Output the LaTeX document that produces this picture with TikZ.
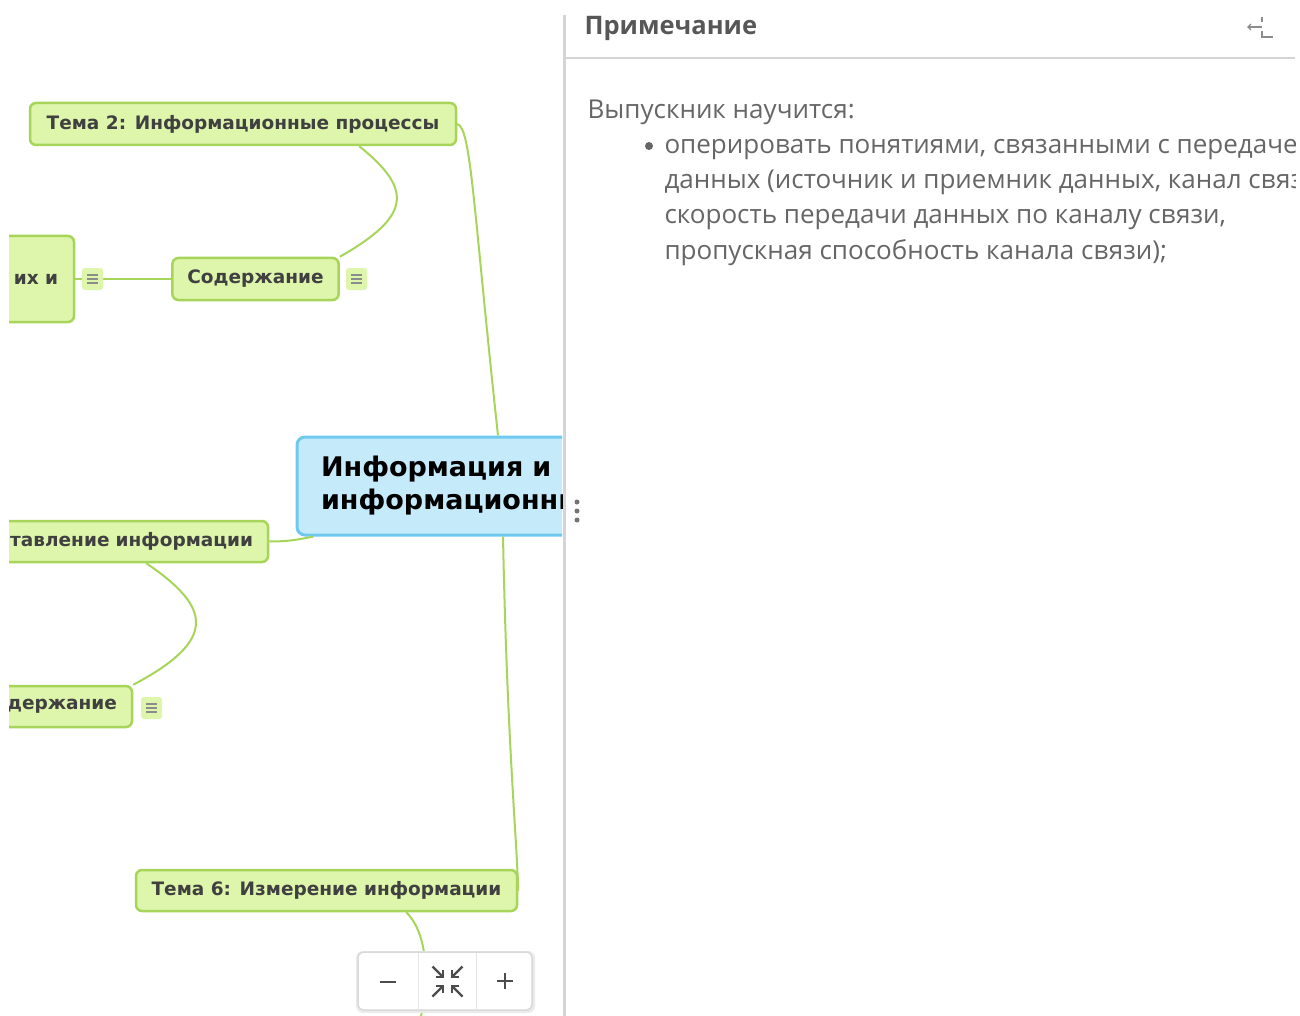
\documentclass[tikz,border=0pt]{standalone}
\usepackage{fontspec}
\setmainfont{Open Sans}
\newfontfamily\mapfont{DejaVu Sans}
\usetikzlibrary{calc,arrows.meta}
\definecolor{mapfill}{RGB}{222,245,172}
\definecolor{mapline}{RGB}{166,213,90}
\definecolor{maptext}{RGB}{64,64,64}
\definecolor{rootfill}{RGB}{197,235,250}
\definecolor{rootline}{RGB}{110,200,240}
\definecolor{notetext}{RGB}{102,102,102}
\definecolor{panelline}{RGB}{212,212,212}
\tikzset{
    topic/.style={
        rectangle,
        draw=mapline,
        fill=mapfill,
        line width=2.5pt,
        rounded corners=6pt,
        minimum height=42pt,
        inner xsep=15pt,
        text=maptext,
        font=\mapfont\bfseries\fontsize{18.5}{22}\selectfont
    },
    cuttopic/.style={
        topic,
        align=right
    },
    roottopic/.style={
        topic,
        draw=rootline,
        fill=rootfill,
        line width=3pt,
        rounded corners=8pt,
        minimum height=98pt,
        inner xsep=24pt,
        align=left,
        text=black,
        font=\mapfont\bfseries\fontsize{27}{33}\selectfont
    },
    notebox/.style={
        rectangle,
        fill=mapfill,
        rounded corners=3pt,
        minimum width=21pt,
        minimum height=22pt
    },
    branch/.style={draw=mapline, line width=2pt},
    ctlbtn/.style={draw=black!70, line width=2.2pt},
    notetxt/.style={anchor=base west, text=notetext, font=\fontsize{26}{35}\selectfont}
}
\begin{document}
\begin{tikzpicture}[x=1pt, y=-1pt]
    \useasboundingbox (0,0) rectangle (1300,1016);
    \fill[white] (0,0) rectangle (1300,1016);

    \begin{scope}
    \clip (9,0) rectangle (562,1016);
    \node[topic, minimum width=426pt] (tema2) at (243,124) {Тема 2: Информационные процессы};
    \node[topic, minimum width=165pt] (content2) at (255.5,279) {Содержание};
    \node[cuttopic, text width=72pt, inner xsep=16pt, minimum height=86pt] (leaf2) at (22,279) {их и};
    \node[roottopic, text width=358pt] (root) at (500,486) {Информация и\\информационные};
    \node[cuttopic, text width=268pt, minimum height=41pt] (tema3) at (119,541.5) {тавление информации};
    \node[cuttopic, text width=132pt, minimum height=41pt] (content3) at (51,706.5) {держание};
    \node[topic, minimum width=381pt, minimum height=41pt] (tema6) at (326.5,890.5) {Тема 6: Измерение информации};
    \coordinate (child6) at (418,1030);

    % ветви
    \draw[branch] (tema2.east) .. controls +(14,4) and +(-25,-230) .. ($(root.north)+(-2,0)$);
    \draw[branch] ($(tema2.south east)+(-98,0)$) .. controls +(55,44) and +(70,-40) .. (content2.north east);
    \draw[branch] (content2.west) -- (leaf2.east);
    \draw[branch] ($(root.south west)+(18,0)$) .. controls +(-15,3) and +(20,0) .. (tema3.east);
    \draw[branch] ($(tema3.south east)+(-123,0)$) .. controls +(65,44) and +(85,-45) .. (content3.north east);
    \draw[branch] ($(root.south)+(3,0)$) .. controls +(4,200) and +(-2,-60) .. (tema6.east);
    \draw[branch] ($(tema6.south east)+(-112,0)$) .. controls +(25,25) and +(10,-40) .. (child6);

    \foreach \nx/\ny [count=\k] in {92.5/279, 356.5/279, 151.5/708} {
        \node[notebox] (note\k) at (\nx,\ny) {};
        \foreach \dy in {-4,0,4}
            \draw[black!45, line width=1.3pt] ($(note\k.center)+(-5.5,\dy)$) -- ++(11,0);
    }

    % масштаб
    \fill[black!8, rounded corners=7pt] (356,951) rectangle (535,1013);
    \node[rectangle, draw=black!15, fill=white, rounded corners=6pt, line width=1.5pt,
          minimum width=174pt, minimum height=58pt] (zoombar) at (445,981) {};
    \draw[black!10, line width=1pt] (418,953) -- (418,1009) (476,953) -- (476,1009);
    \draw[ctlbtn] (380,982) -- (396,982);
    \draw[ctlbtn] (497,981) -- (513,981) (505,973) -- (505,989);
    \foreach \sx in {-1,1}
        \foreach \sy in {-1,1}
            \draw[ctlbtn, line width=2.2pt, -{Straight Barb[length=5pt, width=10pt]}]
                (447.5+15*\sx, 981.5+15*\sy) -- (447.5+3.5*\sx, 981.5+3.5*\sy);
    \end{scope}

    % панель
    \draw[panelline, line width=3pt] (564,15) -- (564,1016);
    \draw[panelline, line width=1.5pt] (565,58) -- (1295,58);
    \node[anchor=base west, text=notetext!85!black, font=\bfseries\fontsize{25.5}{28}\selectfont] (notehead) at (581,35) {Примечание};
    \draw[black!45, line width=1.3pt, -{Straight Barb[length=3pt, width=6pt]}] (1262,27) -- (1247,27);
    \draw[black!45, line width=1.3pt] (1262,17) -- (1262,22) (1262,31) -- (1262,37) -- (1273,37);
    \foreach \dy in {502,511,520}
        \fill[black!55] (577,\dy) circle (2.5pt);

    \begin{scope}
    \clip (566,60) rectangle (1295,1016);
    \node[notetxt] (learn) at (584,119) {Выпускник научится:};
    \node[circle, fill=notetext, inner sep=0pt, minimum size=8pt] (bullet) at (649,146) {};
    \foreach \ln [count=\i from 0] in {{оперировать понятиями, связанными с передачей},
            {данных (источник и приемник данных, канал связи,},
            {скорость передачи данных по каналу связи,},
            {пропускная способность канала связи);}}
        \node[notetxt] (item\i) at (661,154+35*\i) {\ln};
    \end{scope}
\end{tikzpicture}
\end{document}
